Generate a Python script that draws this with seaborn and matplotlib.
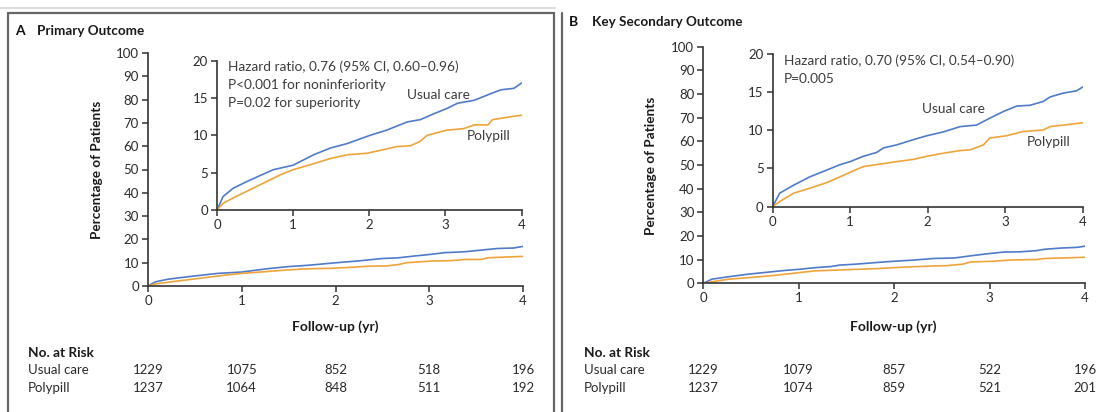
import matplotlib
matplotlib.use('Agg')
import matplotlib.pyplot as plt
import matplotlib.patches as patches
import pandas as pd
import seaborn as sns

# Panel A - primary outcome (cumulative %)
a_usual_t = [0, 0.08, 0.21, 0.39, 0.52, 0.74, 1.0, 1.27, 1.49, 1.71, 2.01, 2.23, 2.5, 2.67, 2.85, 3.02, 3.16, 3.38, 3.6, 3.73, 3.9, 4.0]
a_usual_y = [0, 1.8, 2.9, 3.8, 4.4, 5.4, 6.0, 7.4, 8.3, 8.9, 10.0, 10.7, 11.8, 12.1, 12.9, 13.6, 14.3, 14.7, 15.6, 16.1, 16.3, 17.0]
a_poly_t = [0, 0.08, 0.21, 0.39, 0.61, 0.83, 1.0, 1.27, 1.49, 1.71, 1.97, 2.15, 2.36, 2.54, 2.67, 2.76, 3.02, 3.24, 3.38, 3.56, 3.62, 3.86, 4.0]
a_poly_y = [0, 0.9, 1.6, 2.5, 3.6, 4.7, 5.4, 6.2, 6.9, 7.4, 7.6, 8.0, 8.5, 8.6, 9.2, 10.0, 10.7, 10.9, 11.4, 11.4, 12.1, 12.5, 12.7]

# Panel B - key secondary outcome
b_usual_t = [0, 0.09, 0.27, 0.48, 0.70, 0.87, 1.0, 1.17, 1.34, 1.43, 1.6, 1.82, 1.99, 2.2, 2.42, 2.63, 2.8, 2.98, 3.15, 3.32, 3.49, 3.58, 3.75, 3.92, 4.0]
b_usual_y = [0, 1.75, 2.8, 3.9, 4.8, 5.5, 5.9, 6.6, 7.1, 7.7, 8.1, 8.8, 9.3, 9.8, 10.5, 10.7, 11.6, 12.5, 13.2, 13.3, 13.8, 14.4, 14.9, 15.2, 15.7]
b_poly_t = [0, 0.09, 0.27, 0.48, 0.70, 0.87, 1.0, 1.17, 1.34, 1.6, 1.82, 1.99, 2.2, 2.42, 2.55, 2.72, 2.8, 3.02, 3.23, 3.49, 3.58, 3.84, 4.0]
b_poly_y = [0, 0.65, 1.75, 2.4, 3.15, 3.9, 4.5, 5.25, 5.5, 5.9, 6.2, 6.6, 7.0, 7.35, 7.45, 8.1, 9.0, 9.3, 9.85, 10.05, 10.5, 10.8, 11.0]

years = [0, 1, 2, 3, 4]
a_risk_usual = [1229, 1075, 852, 518, 196]
a_risk_poly = [1237, 1064, 848, 511, 192]
b_risk_usual = [1229, 1079, 857, 522, 196]
b_risk_poly = [1237, 1074, 859, 521, 201]

BLUE = '#4f7bc8'
ORANGE = '#eea43a'
TXT = '#2b2b2b'
NOTE = '#3c3c3c'

sns.set_style('white')
plt.rcParams['font.family'] = ['Lato', 'DejaVu Sans']
plt.rcParams['axes.edgecolor'] = '#333333'
plt.rcParams['xtick.color'] = '#333333'
plt.rcParams['ytick.color'] = '#333333'


def curves(t1, y1, t2, y2):
    d1 = pd.DataFrame({'t': t1, 'pct': y1, 'group': 'Usual care'})
    d2 = pd.DataFrame({'t': t2, 'pct': y2, 'group': 'Polypill'})
    return pd.concat([d1, d2], ignore_index=True)


def style_axis(ax, ymax, ystep):
    sns.despine(ax=ax)
    ax.set_xlim(0, 4)
    ax.set_ylim(0, ymax)
    ax.set_xticks(years)
    ax.set_yticks(range(0, ymax + 1, ystep))
    ax.tick_params(direction='out', length=4.5, width=1.1, labelsize=9.5, pad=2,
                   left=True, bottom=True, labelcolor=TXT)
    for s in ['left', 'bottom']:
        ax.spines[s].set_linewidth(1.2)
    ax.set_xlabel('')
    ax.set_ylabel('')
    ax.grid(False)


def draw_panel(fig, df, main_rect, inset_rect, notes, usual_pos, poly_pos):
    pal = {'Usual care': BLUE, 'Polypill': ORANGE}
    ax = fig.add_axes(main_rect)
    sns.lineplot(data=df, x='t', y='pct', hue='group', palette=pal,
                 estimator=None, sort=False, legend=False, linewidth=1.2, ax=ax)
    style_axis(ax, 100, 10)
    ins = fig.add_axes(inset_rect)
    sns.lineplot(data=df, x='t', y='pct', hue='group', palette=pal,
                 estimator=None, sort=False, legend=False, linewidth=1.2, ax=ins)
    style_axis(ins, 20, 5)
    ins.patch.set_alpha(0)
    for i, line in enumerate(notes):
        ins.text(0.14, 19.2 - i * 2.4, line, fontsize=9.8, color=NOTE, va='center')
    ins.text(usual_pos[0], usual_pos[1], 'Usual care', fontsize=9.8, color=NOTE, va='center')
    ins.text(poly_pos[0], poly_pos[1], 'Polypill', fontsize=9.8, color=NOTE, va='center')
    return ax


fig = plt.figure(figsize=(11.04, 4.12), dpi=100)

# panel frames
fig.add_artist(patches.Rectangle((8 / 1104, -0.05), 546 / 1104, 1 - 13 / 412 + 0.05, transform=fig.transFigure,
                                 fill=False, edgecolor='#666666', linewidth=1.6))
fig.add_artist(plt.Line2D([0, 555 / 1104], [1 - 8 / 412] * 2, transform=fig.transFigure, color='#dddddd', linewidth=1.5))
fig.add_artist(plt.Line2D([562 / 1104] * 2, [0, 1 - 13 / 412], transform=fig.transFigure, color='#666666', linewidth=1.6))

df_a = curves(a_usual_t, a_usual_y, a_poly_t, a_poly_y)
ax_a = draw_panel(fig, df_a, [148 / 1104, 1 - 286 / 412, 375 / 1104, 233 / 412],
                  [217 / 1104, 1 - 210 / 412, 304.5 / 1104, 149.3 / 412],
                  ['Hazard ratio, 0.76 (95% CI, 0.60\u20130.96)', 'P<0.001 for noninferiority', 'P=0.02 for superiority'],
                  (2.5, 15.4), (3.28, 9.9))

df_b = curves(b_usual_t, b_usual_y, b_poly_t, b_poly_y)
ax_b = draw_panel(fig, df_b, [703.3 / 1104, 1 - 283.3 / 412, 381.7 / 1104, 236.6 / 412],
                  [772.7 / 1104, 1 - 206.5 / 412, 310 / 1104, 152.2 / 412],
                  ['Hazard ratio, 0.70 (95% CI, 0.54\u20130.90)', 'P=0.005'],
                  (1.92, 12.8), (3.28, 8.5))


def px(x, y):
    return x / 1104, 1 - y / 412


# titles
fig.text(*px(15, 31), 'A', fontsize=10, fontweight='bold', color='#111111', va='center')
fig.text(*px(37, 31), 'Primary Outcome', fontsize=9.7, fontweight='bold', color='#1a1a1a', va='center')
fig.text(*px(569, 22), 'B', fontsize=10, fontweight='bold', color='#111111', va='center')
fig.text(*px(592, 22), 'Key Secondary Outcome', fontsize=9.7, fontweight='bold', color='#1a1a1a', va='center')

# axis titles
for x0, xc, yc in [(97, 335, 170), (651, 893, 166)]:
    fig.text(*px(x0, yc), 'Percentage of Patients', rotation=90, fontsize=9.8, fontweight='bold',
             color='#1a1a1a', ha='center', va='center')
    fig.text(*px(xc, 327), 'Follow-up (yr)', fontsize=10, fontweight='bold', color='#1a1a1a',
             ha='center', va='center')

# number at risk tables
for ax, x_lab, ru, rp in [(ax_a, 28, a_risk_usual, a_risk_poly), (ax_b, 584, b_risk_usual, b_risk_poly)]:
    fig.text(*px(x_lab, 353), 'No. at Risk', fontsize=9.8, fontweight='bold', color='#1a1a1a', va='center')
    fig.text(*px(x_lab, 370), 'Usual care', fontsize=9.5, color=TXT, va='center')
    fig.text(*px(x_lab, 388), 'Polypill', fontsize=9.5, color=TXT, va='center')
    for yr, u, p in zip(years, ru, rp):
        xf = fig.transFigure.inverted().transform(ax.transData.transform((yr, 0)))[0]
        fig.text(xf, 1 - 370 / 412, str(u), fontsize=9.5, color=TXT, ha='center', va='center')
        fig.text(xf, 1 - 388 / 412, str(p), fontsize=9.5, color=TXT, ha='center', va='center')

fig.savefig('out.png', dpi=100)
